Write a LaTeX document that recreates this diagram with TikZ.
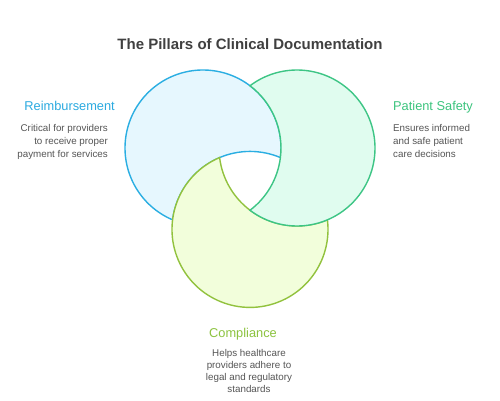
\documentclass[tikz,border=0pt]{standalone}
\usepackage{fontspec}
\setmainfont{Liberation Sans}
\definecolor{bstroke}{HTML}{2AAEE2}
\definecolor{bfill}{HTML}{E6F7FE}
\definecolor{gstroke}{HTML}{3DC585}
\definecolor{gfill}{HTML}{E0FCEF}
\definecolor{ystroke}{HTML}{92C23E}
\definecolor{yfill}{HTML}{F2FEDB}
\definecolor{titlec}{HTML}{404040}
\definecolor{descc}{HTML}{555555}
\definecolor{blab}{HTML}{2BAAE0}
\definecolor{glab}{HTML}{3CC47E}
\definecolor{ylab}{HTML}{8CC33F}
\begin{document}
\begin{tikzpicture}[x=1pt,y=1pt,
  petal/.style={line width=1.4pt},
  desc/.style={text=descc,font=\fontsize{9.8}{12.7}\selectfont,inner sep=0pt},
  lab/.style={font=\fontsize{12.8}{15}\selectfont,inner sep=0pt,anchor=base}]
\useasboundingbox[fill=white] (0,0) rectangle (500,400);
\coordinate (B) at (203,252);
\coordinate (G) at (297,252);
\coordinate (Y) at (250,170.6);
% blue: B minus Y
\draw[petal,draw=bstroke,fill=bfill] (B) ++(-7.06:78) arc[start angle=-7.06,end angle=247.06,radius=78]
  arc[start angle=172.94,end angle=67.06,radius=78] -- cycle;
% yellow: Y minus G
\draw[petal,draw=ystroke,fill=yfill] (Y) ++(112.94:78) arc[start angle=112.94,end angle=367.06,radius=78]
  arc[start angle=292.94,end angle=187.06,radius=78] -- cycle;
% green: G minus B
\draw[petal,draw=gstroke,fill=gfill] (G) ++(-127.06:78) arc[start angle=-127.06,end angle=127.06,radius=78]
  arc[start angle=52.94,end angle=-52.94,radius=78] -- cycle;
% texts
\node[font=\bfseries\fontsize{15}{18}\selectfont,text=titlec,anchor=base,inner sep=0pt] (title) at (250,351) {The Pillars of Clinical Documentation};
\node[lab,anchor=base east,text=blab] (rl) at (115,290) {Reimbursement};
\node[desc,anchor=north east,align=right] (rd) at (108,275.5) {Critical for providers\\to receive proper\\payment for services};
\node[lab,anchor=base west,text=glab] (pl) at (393,290) {Patient Safety};
\node[desc,anchor=north west,align=left] (pd) at (393,275.5) {Ensures informed\\and safe patient\\care decisions};
\node[lab,text=ylab] (cl) at (243,63) {Compliance};
\node[desc,anchor=north,align=center,font=\fontsize{9.8}{11.9}\selectfont] (cd) at (249,50.8) {Helps healthcare\\providers adhere to\\legal and regulatory\\standards};
\end{tikzpicture}
\end{document}
